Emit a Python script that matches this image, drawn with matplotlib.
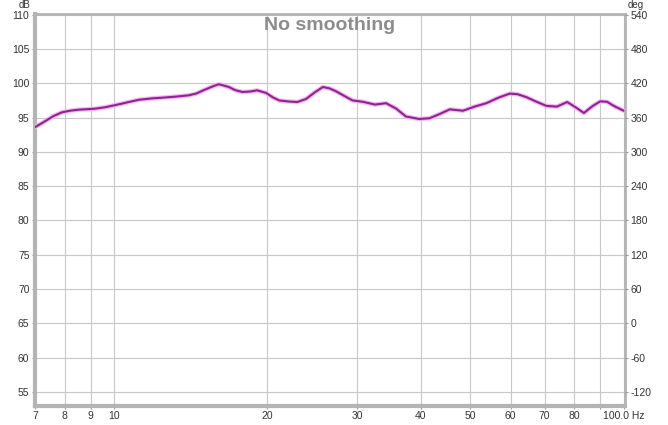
import matplotlib
matplotlib.use("Agg")
import matplotlib.pyplot as plt
from matplotlib.ticker import FixedLocator, NullLocator, NullFormatter

plt.rcParams['font.family'] = ['Liberation Sans', 'DejaVu Sans']

# Data (frequency in Hz, SPL in dB)
freq = [7.0, 7.3, 7.6, 7.9, 8.2, 8.52, 8.85, 9.19, 9.6, 10.0, 10.35, 10.69, 11.2,
        11.8, 12.43, 13.2, 14.0, 14.5, 14.9, 15.45, 15.95, 16.1, 16.8, 17.3, 17.87,
        18.5, 19.1, 19.9, 20.5, 21.1, 22.0, 22.9, 23.8, 24.8, 25.7, 26.5, 27.3, 28.4,
        29.4, 30.8, 32.5, 34.2, 35.8, 37.4, 39.7, 41.6, 43.5, 45.6, 48.4, 51.0, 53.8,
        56.8, 59.8, 62.0, 64.5, 67.5, 70.6, 74.0, 77.5, 80.5, 83.6, 87.0, 90.0, 92.8,
        95.7, 100.0]
spl = [93.6, 94.4, 95.2, 95.76, 96.0, 96.15, 96.22, 96.3, 96.5, 96.78, 97.02, 97.27, 97.6,
       97.78, 97.9, 98.05, 98.24, 98.5, 98.9, 99.4, 99.8, 99.85, 99.46, 99.0, 98.73,
       98.8, 98.97, 98.59, 97.95, 97.5, 97.35, 97.27, 97.7, 98.7, 99.46, 99.25, 98.82, 98.1,
       97.5, 97.3, 96.9, 97.1, 96.3, 95.16, 94.8, 94.9, 95.5, 96.2, 96.0, 96.6, 97.1,
       97.9, 98.5, 98.4, 97.97, 97.3, 96.7, 96.6, 97.27, 96.5, 95.67, 96.7, 97.37, 97.3,
       96.7, 96.0]

x_ticks = [7, 8, 9, 10, 20, 30, 40, 50, 60, 70, 80, 90, 100]
x_labels = ['7', '8', '9', '10', '20', '30', '40', '50', '60', '70', '80', '', '100.0 Hz']
y_ticks = [55, 60, 65, 70, 75, 80, 85, 90, 95, 100, 105, 110]
deg_ticks = [-120, -60, 0, 60, 120, 180, 240, 300, 360, 420, 480, 540]

fig = plt.figure(figsize=(6.68, 4.25), dpi=100)
ax = fig.add_axes([35/668, 1 - 405.7/425, (624.7 - 35)/668, (405.7 - 14)/425])

ax.set_xscale('log')
ax.set_xlim(7, 100.5)
ax.set_ylim(53, 110.1)

ax.xaxis.set_major_locator(FixedLocator(x_ticks))
ax.xaxis.set_minor_locator(NullLocator())
ax.xaxis.set_minor_formatter(NullFormatter())
ax.set_xticks(x_ticks)
ax.set_xticklabels(x_labels)
ax.set_yticks(y_ticks)
ax.set_yticklabels([str(v) for v in y_ticks])

ax.grid(True, color='#c8c8c8', linewidth=0.8)
ax.set_axisbelow(True)

ax.plot(freq, spl, color='#f6b4f6', linewidth=3.2, solid_capstyle='round', zorder=3)
ax.plot(freq, spl, color='#8e248e', linewidth=1.5, solid_capstyle='round', zorder=4)

for side in ['left', 'bottom']:
    ax.spines[side].set_color('#b4b4b4')
    ax.spines[side].set_linewidth(3)
for side in ['top', 'right']:
    ax.spines[side].set_color('#b4b4b4')
    ax.spines[side].set_linewidth(2)

ax.tick_params(axis='both', which='both', length=2, color='#999999',
               labelsize=7.5, labelcolor='#333333')
ax.tick_params(axis='x', pad=2)
ax.tick_params(axis='y', pad=2)

ax2 = ax.twinx()
ax2.set_ylim(12 * 53 - 780, 12 * 110.1 - 780)
ax2.set_yticks(deg_ticks)
ax2.set_yticklabels([str(v) for v in deg_ticks])
ax2.tick_params(axis='y', length=2, color='#999999', labelsize=7.5,
                labelcolor='#333333', pad=2)
for s in ax2.spines.values():
    s.set_visible(False)

fig.text(25/668, 1 - 5/425, 'dB', fontsize=7, color='#333333', ha='center', va='center')
fig.text(636/668, 1 - 5/425, 'deg', fontsize=7, color='#333333', ha='center', va='center')

ax.text(0.5, 0.993, 'No smoothing', transform=ax.transAxes, ha='center', va='top',
        fontsize=14, fontweight='bold', color='#8c8c8c', zorder=5)

fig.savefig('out.png', dpi=100)
